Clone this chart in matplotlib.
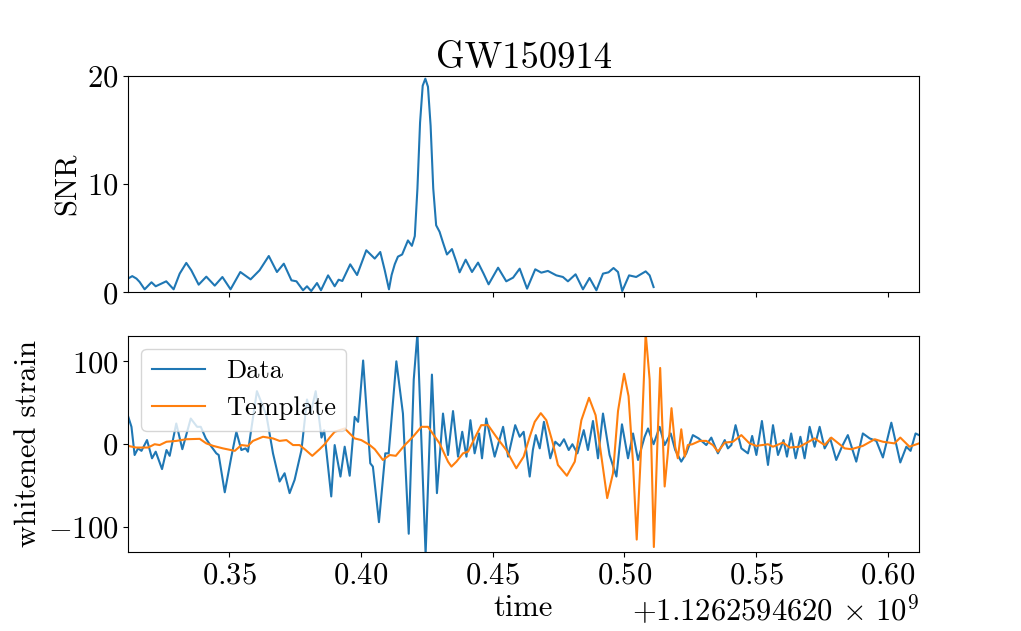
import matplotlib
matplotlib.use("Agg")
import matplotlib.pyplot as plt
import matplotlib.ticker as mticker
import numpy as np

plt.rcParams['font.family'] = 'serif'
plt.rcParams['font.serif'] = ['cmr10']
plt.rcParams['mathtext.fontset'] = 'cm'
plt.rcParams['axes.formatter.use_mathtext'] = True
plt.rcParams['axes.unicode_minus'] = True
plt.rcParams['font.size'] = 22

t0 = 1126259462.0

# SNR time series (seconds after t0, SNR)
snr_t = [0.3117, 0.3133, 0.3149, 0.3161, 0.3180, 0.3206, 0.3222, 0.3262, 0.3290, 0.3313,
         0.3338, 0.3357, 0.3385, 0.3414, 0.3446, 0.3475, 0.3506, 0.3543, 0.3582, 0.3616,
         0.3651, 0.3682, 0.3708, 0.3737, 0.3756, 0.3781, 0.3796, 0.3812, 0.3834, 0.3849,
         0.3876, 0.3901, 0.3916, 0.3930, 0.3960, 0.3986, 0.4021, 0.4053, 0.4074, 0.4091,
         0.4107, 0.4117, 0.4129, 0.4141, 0.4157, 0.4179, 0.4194, 0.4205, 0.4215, 0.4225,
         0.4235, 0.4245, 0.4255, 0.4265, 0.4275, 0.4286, 0.4299, 0.4312, 0.4327, 0.4346,
         0.4363, 0.4375, 0.4398,
         0.4422, 0.4445, 0.4466, 0.4485, 0.4521, 0.4552, 0.4578, 0.4603, 0.4631, 0.4662,
         0.4685, 0.4710, 0.4742, 0.4767, 0.4786, 0.4815, 0.4843, 0.4868, 0.4894, 0.4919,
         0.4940, 0.4959, 0.4976, 0.4992, 0.5018, 0.5045, 0.5081, 0.5096, 0.5111]
snr_v = [1.27, 1.5, 1.27, 0.96, 0.28, 0.93, 0.56, 1.02, 0.28, 1.73,
         2.72, 2.04, 0.71, 1.45, 0.62, 1.42, 0.28, 1.88, 1.2, 2.04,
         3.36, 1.88, 2.65, 1.11, 1.02, 0.19, 0.56, 0.12, 0.86, 0.19,
         1.57, 0.56, 1.17, 1.05, 2.59, 1.6, 3.89, 3.12, 3.73, 2.04,
         0.28, 1.6, 2.6, 3.3, 3.5, 4.8, 4.3, 5.2, 9.6, 15.7,
         19.1, 19.75, 19.0, 15.4, 9.6, 6.2, 5.6, 4.6, 3.5, 4.0,
         2.8, 1.85, 3.02,
         1.88, 2.75, 1.73, 0.74, 2.28, 1.02, 1.36, 2.19, 0.34, 2.13,
         1.82, 1.98, 1.57, 1.42, 1.02, 1.67, 0.28, 1.33, 0.19, 1.73,
         1.85, 2.25, 1.88, 0.12, 1.57, 1.42, 1.94, 1.57, 0.49]

# whitened strain data
data_t = [0.3117, 0.3130, 0.3142, 0.3155, 0.3168, 0.3189, 0.3208, 0.3222, 0.3246, 0.3263,
          0.3275, 0.3300, 0.3323, 0.3355, 0.3379, 0.3393, 0.3412, 0.3429, 0.3452, 0.3461,
          0.3484, 0.3509, 0.3528, 0.3547, 0.3563, 0.3572, 0.3606, 0.3642, 0.3667, 0.3692,
          0.3711, 0.3730, 0.3749, 0.3775, 0.3796, 0.3810, 0.3829, 0.3851, 0.3861, 0.3888,
          0.3901, 0.3923, 0.3939, 0.3958, 0.3977, 0.3990, 0.4009, 0.4036, 0.4046, 0.4069,
          0.4093, 0.4106, 0.4135, 0.4160, 0.4182, 0.4201, 0.4215, 0.4246, 0.4270, 0.4289,
          0.4312, 0.4331, 0.4350, 0.4369, 0.4385, 0.4401, 0.4416, 0.4432, 0.4449, 0.4460,
          0.4476, 0.4508, 0.4540, 0.4559, 0.4586, 0.4603, 0.4618, 0.4641, 0.4653, 0.4664,
          0.4679, 0.4695, 0.4707, 0.4719, 0.4738, 0.4755, 0.4771, 0.4789, 0.4803, 0.4822,
          0.4846, 0.4862, 0.4881, 0.4900, 0.4919, 0.4944, 0.4970, 0.4991, 0.5014, 0.5033,
          0.5052, 0.5077, 0.5090, 0.5111, 0.5134, 0.5153, 0.5176, 0.5193, 0.5216, 0.5235,
          0.5260, 0.5282, 0.5311, 0.5330, 0.5355, 0.5381, 0.5393, 0.5406, 0.5422, 0.5444,
          0.5469, 0.5485, 0.5501, 0.5522, 0.5545, 0.5564, 0.5583, 0.5604, 0.5617, 0.5633,
          0.5650, 0.5668, 0.5684, 0.5703, 0.5722, 0.5741, 0.5760, 0.5781, 0.5804, 0.5827,
          0.5848, 0.5880, 0.5905, 0.5931, 0.5956, 0.5981, 0.6013, 0.6047, 0.6070, 0.6086,
          0.6105, 0.6118]
data_v = [34, 21, -13, -5, -8, 5, -17, -9, -30, -7,
          -14, 25, -6, 31, 21, 21, 7, -1, -11, -13,
          -58, -15, 15, -7, -5, -9, 64, 35, -11, -45,
          -35, -59, -43, -7, 54, 37, 64, 8, 17, -63,
          -1, -39, -3, -38, 33, 27, 101, -23, -27, -94,
          -11, -11, 100, 37, -108, 78, 134, -133, 84, -59,
          37, -13, 40, -15, 15, -15, 29, -11, 13, -17,
          31, -15, 21, -15, 23, 9, 15, -39, -7, 11,
          -5, 27, 5, -17, 3, -2, 6, -7, 0, -11,
          17, -7, 28, -17, 37, -13, -39, 24, -17, 13,
          -19, 9, 19, 0, 21, -1, 13, -7, -21, -11,
          11, 7, -1, 8, -11, 5, -5, -1, 23, -5,
          -11, 10, -13, 28, -25, 23, -13, 5, -15, 13,
          -17, 9, -17, 21, -3, 21, -5, 7, -19, -2,
          11, -21, 13, 7, 4, -16, 26, -22, -3, -8,
          13, 11]

# matched template
tmpl_t = [0.3117, 0.3148, 0.3193, 0.3218, 0.3237, 0.3263, 0.3300, 0.3338, 0.3389, 0.3414,
          0.3440, 0.3477, 0.3522, 0.3547, 0.3572, 0.3591, 0.3629, 0.3667, 0.3692, 0.3718,
          0.3743, 0.3768, 0.3791, 0.3816, 0.3844, 0.3863, 0.3882, 0.3901, 0.3939, 0.3977,
          0.4002, 0.4034, 0.4053, 0.4084, 0.4110, 0.4133, 0.4167, 0.4198, 0.4230, 0.4255,
          0.4299, 0.4331, 0.4344, 0.4363, 0.4388, 0.4407, 0.4438, 0.4457, 0.4483, 0.4514,
          0.4552, 0.4590, 0.4618, 0.4641, 0.4660, 0.4683, 0.4704, 0.4729, 0.4748, 0.4782,
          0.4812, 0.4837, 0.4866, 0.4891, 0.4913, 0.4935, 0.4957, 0.4976, 0.4999, 0.5016,
          0.5033, 0.5047, 0.5064, 0.5081, 0.5096, 0.5112, 0.5125, 0.5136, 0.5153, 0.5165,
          0.5179, 0.5193, 0.5203, 0.5216, 0.5229, 0.5241, 0.5258, 0.5286, 0.5311, 0.5336,
          0.5355, 0.5381, 0.5412, 0.5444, 0.5475, 0.5501, 0.5545, 0.5564, 0.5602, 0.5627,
          0.5665, 0.5722, 0.5760, 0.5785, 0.5836, 0.5861, 0.5905, 0.5950, 0.5981, 0.6025,
          0.6047, 0.6082, 0.6118]
tmpl_v = [-2, -4, -4, 0, -1, 3, 4, 6, 6.5, 1,
          -2, -5, -8, -1, -2, 4, 9, 7, 4, 5,
          -1, -1, -7, -14, -6, 0, 8, 15, 19, 7,
          5, -1, -6, -19, -13, -14, -1, 9, 21, 21,
          1, -21, -27, -21, -11, -9, 11, 23, 23, 9,
          -7, -29, -15, 9, 27, 37.5, 29, 1, -25, -38,
          -21, 29, 56, 35, -15, -65, -35, 40, 85, 58,
          -23, -115, -3, 134, 78, -124, -3, 92, -51, -11,
          43.5, -3, -17, 18, -15, -1, 0, 4, 4, -1,
          -9, 2, 3, 11, 1, -2, 0, -3, 2, -4,
          -3, 7, -1, 8, -5, -6, -2, 6, 3, 1,
          8, -3, 1]


class OffsetFormatter(mticker.ScalarFormatter):
    def get_offset(self):
        return r"$+1.1262594620\,\times\,10^{9}$"


fig, (ax1, ax2) = plt.subplots(2, 1, sharex=True, figsize=(10.21, 6.31), dpi=100)
fig.subplots_adjust(left=0.1254, right=0.9001, bottom=0.1252, top=0.8796, hspace=0.2)

ax1.plot(t0 + np.array(snr_t), snr_v)
ax1.set_ylabel("SNR")
ax1.set_ylim(0, 20)
ax1.set_title("GW150914")

ax2.plot(t0 + np.array(data_t), data_v, label="Data")
ax2.plot(t0 + np.array(tmpl_t), tmpl_v, label="Template")
ax2.set_ylabel("whitened strain")
ax2.set_xlabel("time")
ax2.set_ylim(-130, 131)
ax2.set_xlim(t0 + 0.3117, t0 + 0.6118)
ax2.xaxis.set_major_formatter(OffsetFormatter(useOffset=t0))
ax2.legend(loc="upper left", fontsize=19)

fig.savefig("out.png")
